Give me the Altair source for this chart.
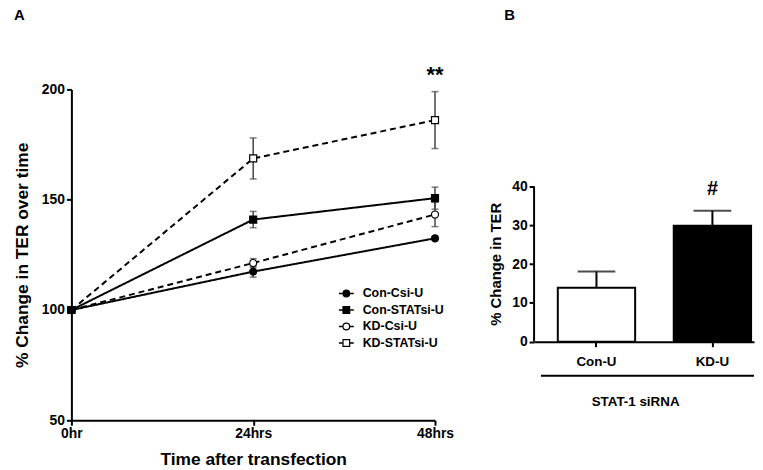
import altair as alt
import pandas as pd

FONT = "Liberation Sans"

# ---- Panel A data ----
times = ["0hr", "24hrs", "48hrs"]
series = ["Con-Csi-U", "Con-STATsi-U", "KD-Csi-U", "KD-STATsi-U"]
con_csi = [100, 117.4, 132.5]
con_csi_err = [0, 2.5, 1.0]
con_stat = [100, 141.0, 150.7]
con_stat_err = [0, 3.7, 5.0]
kd_csi = [100, 121.3, 143.3]
kd_csi_err = [0, 2.0, 5.5]
kd_stat = [100, 168.7, 186.1]
kd_stat_err = [0, 9.3, 12.9]

# ---- Panel B data ----
groups = ["Con-U", "KD-U"]
bar_vals = [13.9, 29.9]
bar_sem = [4.2, 3.9]

rows = []
for name, vals, errs in [
    (series[0], con_csi, con_csi_err),
    (series[1], con_stat, con_stat_err),
    (series[2], kd_csi, kd_csi_err),
    (series[3], kd_stat, kd_stat_err),
]:
    for t, v, e in zip(times, vals, errs):
        rows.append({"time": t, "series": name, "value": v, "lo": v - e, "hi": v + e})
dfa = pd.DataFrame(rows)
dfa_err = dfa[dfa["hi"] > dfa["lo"]]
# draw order for markers (filled Con-STATsi square on top at 0hr)
draw_order = ["KD-STATsi-U", "KD-Csi-U", "Con-Csi-U", "Con-STATsi-U"]
dfa_pts = pd.concat([dfa[dfa["series"] == s] for s in draw_order]).reset_index(drop=True)
df_leg = pd.DataFrame({"series": series})

dfb = pd.DataFrame({"bar_group": groups, "value": bar_vals, "sem": bar_sem})
dfb["top"] = dfb["value"] + dfb["sem"]

shape_scale = alt.Scale(domain=series, range=["circle", "square", "circle", "square"])
fill_scale = alt.Scale(domain=series, range=["black", "black", "white", "white"])
dash_scale = alt.Scale(domain=series, range=[[1, 0], [1, 0], [6, 4], [6, 4]])

xA = alt.X("time:N", sort=times, scale=alt.Scale(type="point", padding=0),
           axis=alt.Axis(title="Time after transfection", labelAngle=0, labelFontSize=14,
                         labelFontWeight="bold", titleFontSize=17.5, titleFontWeight="bold",
                         domainWidth=2, tickWidth=2, tickSize=5, domainColor="black",
                         tickColor="black", labelColor="black", titleColor="black",
                         labelPadding=1, titlePadding=11))
yA_scale = alt.Scale(domain=[50, 200], nice=False, zero=False)
yA = alt.Y("value:Q", scale=yA_scale,
           axis=alt.Axis(title="% Change in TER over time", values=[50, 100, 150, 200],
                         labelFontSize=14, labelFontWeight="bold", titleFontSize=17.5,
                         titleFontWeight="bold", domainWidth=2, tickWidth=2, tickSize=5,
                         domainColor="black", tickColor="black", labelColor="black",
                         titleColor="black", labelPadding=2, titlePadding=10, grid=False))

lines = alt.Chart(dfa).mark_line(color="black", strokeWidth=2).encode(
    x=xA, y=yA, detail="series:N",
    strokeDash=alt.StrokeDash("series:N", sort=series, scale=dash_scale, legend=None),
)
err_rules = alt.Chart(dfa_err).mark_rule(color="#444", strokeWidth=1.5).encode(
    x=alt.X("time:N", sort=times), y=alt.Y("lo:Q", scale=yA_scale), y2="hi:Q")
cap_lo = alt.Chart(dfa_err).mark_tick(color="#444", orient="horizontal", size=7, thickness=1.5).encode(
    x=alt.X("time:N", sort=times), y=alt.Y("lo:Q", scale=yA_scale))
cap_hi = alt.Chart(dfa_err).mark_tick(color="#444", orient="horizontal", size=7, thickness=1.5).encode(
    x=alt.X("time:N", sort=times), y=alt.Y("hi:Q", scale=yA_scale))
points = alt.Chart(dfa_pts).mark_point(filled=True, size=50, opacity=1, strokeWidth=1.2,
                                       stroke="black").encode(
    x=alt.X("time:N", sort=times), y=alt.Y("value:Q", scale=yA_scale),
    shape=alt.Shape("series:N", sort=series, scale=shape_scale, legend=None),
    color=alt.Color("series:N", sort=series, scale=fill_scale, legend=None),
)
stars = alt.Chart(pd.DataFrame({"time": ["48hrs"], "value": [206.3], "label": ["**"]})).mark_text(
    fontSize=22, fontWeight="bold", font=FONT, color="black", baseline="middle").encode(
    x=alt.X("time:N", sort=times), y=alt.Y("value:Q", scale=yA_scale), text="label:N")

data_layers = alt.layer(lines, err_rules, cap_lo, cap_hi, points, stars)

# hand-built legend (symbol with short line segment, like the original)
leg_y = alt.Y("series:N", sort=series, axis=None,
              scale=alt.Scale(type="point", padding=0, range=[206, 256]))
leg_lines = alt.Chart(df_leg).mark_rule(color="black", strokeWidth=1.5).encode(
    x=alt.value(270), x2=alt.value(285), y=leg_y,
    strokeDash=alt.StrokeDash("series:N", sort=series, scale=dash_scale, legend=None))
leg_pts = alt.Chart(df_leg).mark_point(filled=True, size=45, opacity=1, strokeWidth=1.2,
                                       stroke="black").encode(
    x=alt.value(277.5), y=leg_y,
    shape=alt.Shape("series:N", sort=series, scale=shape_scale, legend=None),
    color=alt.Color("series:N", sort=series, scale=fill_scale, legend=None))
leg_text = alt.Chart(df_leg).mark_text(align="left", baseline="middle", fontSize=12.5,
                                       fontWeight="bold", font=FONT, color="black").encode(
    x=alt.value(294), y=leg_y, text="series:N")
legend_layers = alt.layer(leg_lines, leg_pts, leg_text)

panelA = alt.layer(data_layers, legend_layers).resolve_scale(y="independent").properties(
    width=367, height=334,
    title=alt.TitleParams("A", anchor="start", frame="group", dx=-58, fontSize=15,
                          fontWeight="bold", font=FONT, color="black", offset=42),
)

# ---- Panel B ----
yB_scale = alt.Scale(domain=[-20.3, 65.1], nice=False, zero=False)
xB = alt.X("bar_group:N", sort=groups,
           scale=alt.Scale(paddingInner=0.333, paddingOuter=0.115, align=0.89),
           axis=alt.Axis(title="STAT-1 siRNA", labelAngle=0, labelFontSize=13.5,
                         labelFontWeight="bold", titleFontSize=13.5, titleFontWeight="bold",
                         offset=-79.3, domainWidth=2, tickWidth=2, tickSize=5,
                         domainColor="black", tickColor="black", labelColor="black",
                         titleColor="black", labelPadding=8, titlePadding=27, titleX=102))
yB = alt.Y("value:Q", scale=yB_scale,
           axis=alt.Axis(title="% Change in TER", values=[0, 10, 20, 30, 40], domain=False,
                         labelFontSize=14, labelFontWeight="bold", titleFontSize=15,
                         titleFontWeight="bold", tickWidth=2, tickSize=5, tickColor="black",
                         labelColor="black", titleColor="black", labelPadding=2,
                         titlePadding=8, titleY=176, grid=False))

bars = alt.Chart(dfb).mark_bar(stroke="black", strokeWidth=2).encode(
    x=xB, y=yB, y2=alt.datum(0),
    fill=alt.condition(alt.datum.bar_group == groups[1], alt.value("black"), alt.value("white")),
)
bar_err = alt.Chart(dfb).mark_rule(color="black", strokeWidth=2).encode(
    x=alt.X("bar_group:N", sort=groups), y=alt.Y("value:Q", scale=yB_scale), y2="top:Q")
bar_cap = alt.Chart(dfb).mark_tick(color="black", orient="horizontal", size=38, thickness=2).encode(
    x=alt.X("bar_group:N", sort=groups), y=alt.Y("top:Q", scale=yB_scale))
y_line = alt.Chart(pd.DataFrame({"a": [0], "b": [40]})).mark_rule(color="black", strokeWidth=2).encode(
    x=alt.value(0), y=alt.Y("a:Q", scale=yB_scale), y2="b:Q")
under_line = alt.Chart(pd.DataFrame({"a": [0]})).mark_rule(color="black", strokeWidth=2).encode(
    x=alt.value(7), x2=alt.value(222), y=alt.value(289))
hash_mark = alt.Chart(pd.DataFrame({"bar_group": [groups[1]], "value": [39.3], "label": ["#"]})).mark_text(
    fontSize=20, fontWeight="bold", font=FONT, color="black", baseline="middle").encode(
    x=alt.X("bar_group:N", sort=groups), y=alt.Y("value:Q", scale=yB_scale), text="label:N")

panelB = alt.layer(bars, bar_err, bar_cap, y_line, under_line, hash_mark).properties(
    width=222, height=334,
    title=alt.TitleParams("B", anchor="start", frame="group", dx=-30, fontSize=15,
                          fontWeight="bold", font=FONT, color="black", offset=67),
)

chart = alt.hconcat(panelA, panelB, spacing=35).properties(
    padding={"left": 5, "top": -3, "right": 0, "bottom": 0}
).configure(font=FONT).configure_view(stroke=None).configure_axis(labelFont=FONT, titleFont=FONT)

chart.save("out.html", embed_options={"renderer": "svg", "actions": False})
